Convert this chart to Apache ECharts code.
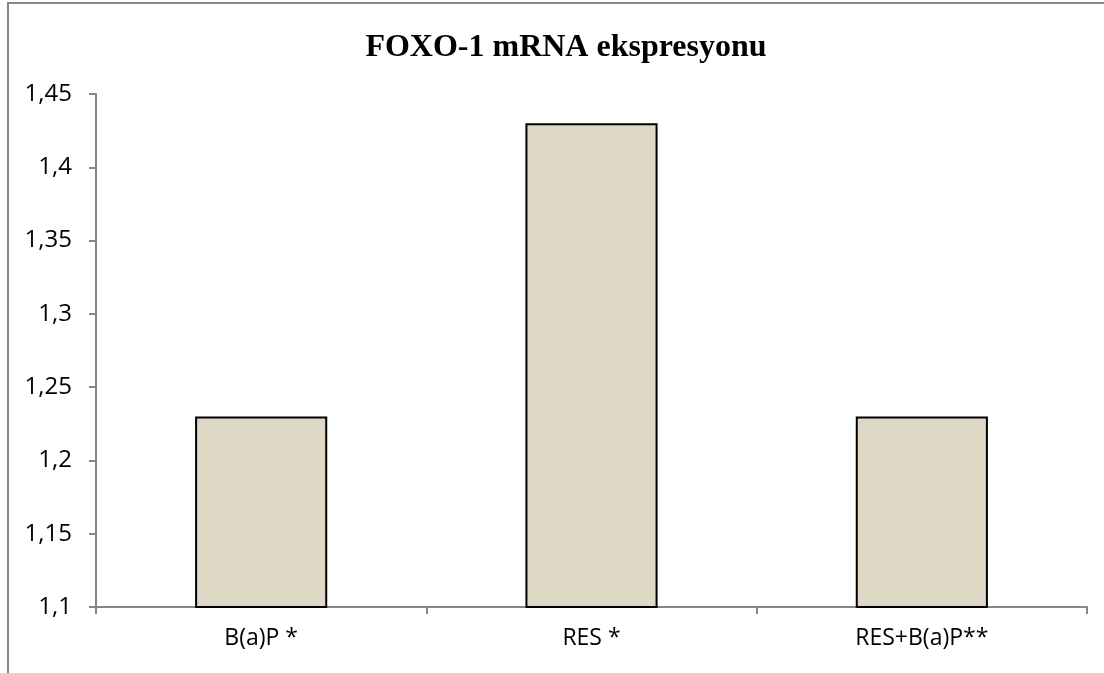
<!DOCTYPE html>
<html>
<head>
<meta charset="utf-8">
<script src="https://cdn.jsdelivr.net/npm/echarts@6/dist/echarts.min.js"></script>
<style>
  html, body { margin: 0; padding: 0; background: #fff; }
  #chart { width: 1104px; height: 673px; }
</style>
</head>
<body>
<div id="chart"></div>
<script>
// FOXO-1 mRNA expression per treatment group
const categories = ['B(a)P *', 'RES *', 'RES+B(a)P**'];
const expression = [1.23, 1.43, 1.23];
const yMin = 1.1;
const yMax = 1.45;
const yStep = 0.05;

const chart = echarts.init(document.getElementById('chart'), null, { renderer: 'canvas' });

// Decimal comma, as in Turkish number formatting
const fmt = v => parseFloat(v.toFixed(2)).toString().replace('.', ',');

chart.setOption({
  animation: false,
  backgroundColor: '#ffffff',
  title: {
    text: 'FOXO-1 mRNA ekspresyonu',
    left: 561,
    top: 27,
    textAlign: 'center',
    textStyle: {
      fontFamily: '"Liberation Serif", "DejaVu Serif", serif',
      fontWeight: 'bold',
      fontSize: 32,
      color: '#000'
    }
  },
  graphic: [{
    type: 'rect',
    shape: { x: 8, y: 3, width: 1200, height: 800 },
    style: { fill: 'none', stroke: '#878787', lineWidth: 2 },
    silent: true
  }],
  grid: { left: 96, right: 17, top: 94, bottom: 66, containLabel: false },
  xAxis: {
    type: 'category',
    data: categories,
    boundaryGap: true,
    axisLine: { lineStyle: { color: '#868686', width: 2 } },
    axisTick: { show: true, interval: 0, length: 7, lineStyle: { color: '#868686', width: 2 } },
    axisLabel: {
      interval: 0,
      margin: 20,
      color: '#000',
      fontFamily: '"Open Sans", Lato, sans-serif',
      fontSize: 23
    }
  },
  yAxis: {
    type: 'value',
    min: yMin,
    max: yMax,
    interval: yStep,
    splitLine: { show: false },
    axisLine: { show: true, lineStyle: { color: '#868686', width: 2 } },
    axisTick: { show: true, length: 7, lineStyle: { color: '#868686', width: 2 } },
    axisLabel: {
      margin: 24,
      color: '#000',
      fontFamily: '"Open Sans", Lato, sans-serif',
      fontSize: 24,
      formatter: fmt
    }
  },
  series: [{
    type: 'bar',
    data: expression,
    barWidth: '40%',
    itemStyle: { color: '#DDD9C4', borderColor: '#000', borderWidth: 2 }
  }]
});
</script>
</body>
</html>
